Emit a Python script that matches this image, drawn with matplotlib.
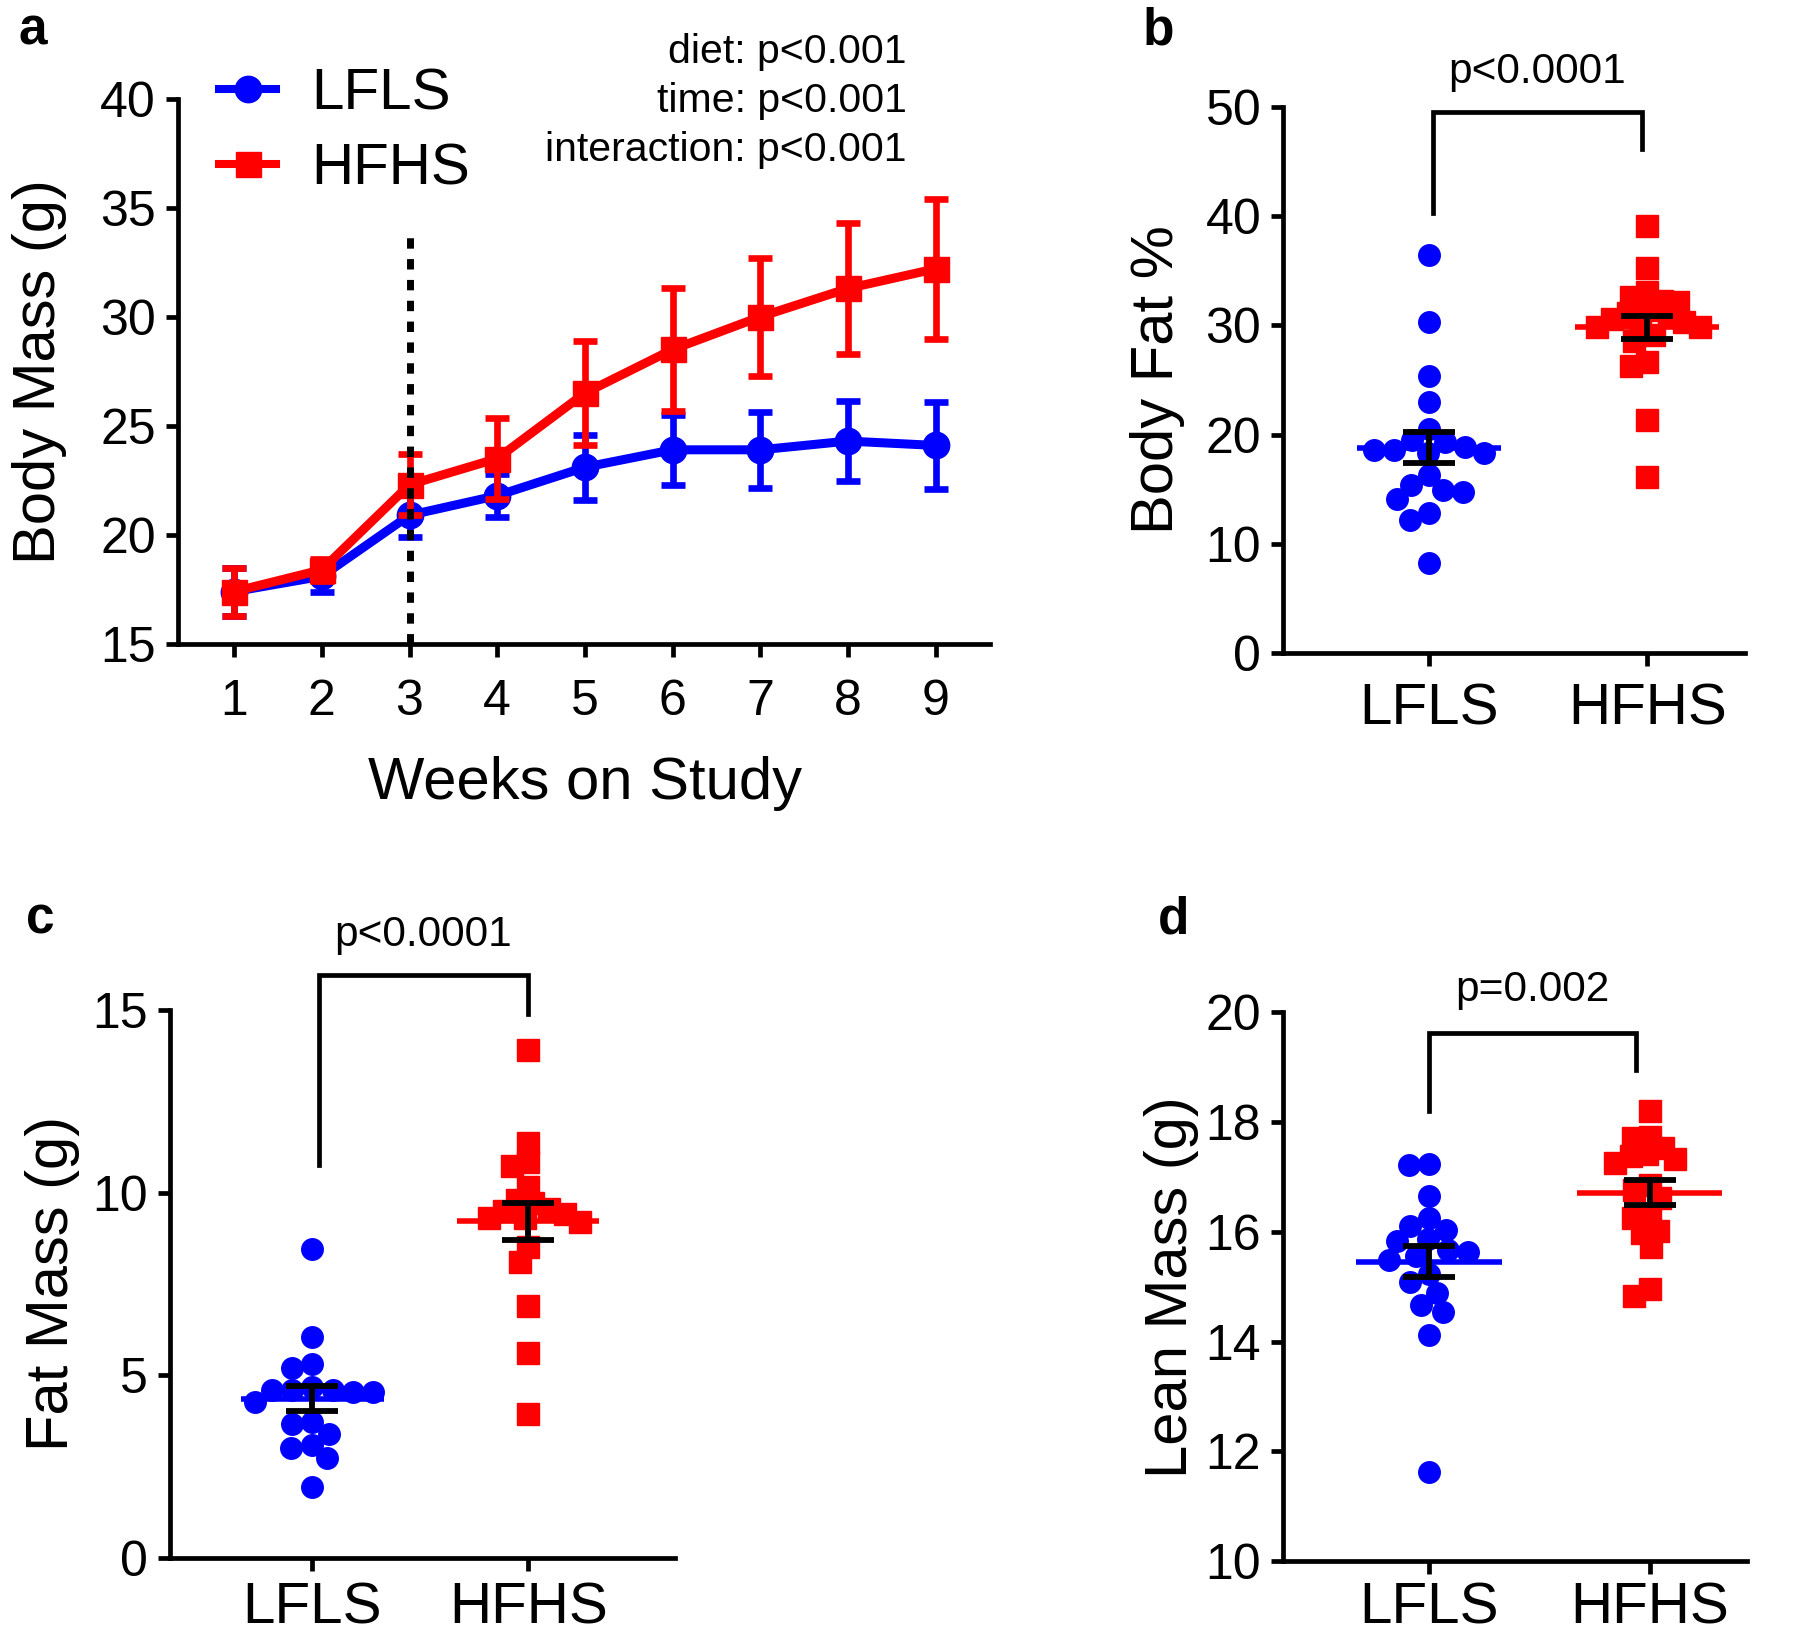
import numpy as np
import matplotlib
matplotlib.use("Agg")
import matplotlib.pyplot as plt
from matplotlib.lines import Line2D

plt.rcParams['font.family'] = ['Liberation Sans', 'DejaVu Sans']

# ---------------- data ----------------
weeks = [1, 2, 3, 4, 5, 6, 7, 8, 9]
lfls_mass = [17.4, 18.1, 20.9, 21.8, 23.1, 23.9, 23.9, 24.3, 24.1]
lfls_mass_sem = [1.1, 0.7, 1.0, 1.0, 1.5, 1.6, 1.75, 1.85, 2.0]
hfhs_mass = [17.4, 18.4, 22.3, 23.5, 26.5, 28.5, 30.0, 31.3, 32.2]
hfhs_mass_sem = [1.1, 0.5, 1.4, 1.85, 2.4, 2.8, 2.7, 3.0, 3.2]
diet_start_week = 3

groups = ["LFLS", "HFHS"]

fat_pct_lfls = [36.4, 30.3, 25.4, 23.0, 20.5, 19.5, 19.3, 18.6, 18.6, 18.9,
                18.3, 18.3, 16.3, 15.4, 14.7, 14.9, 14.1, 12.8, 12.2, 8.2]
fat_pct_hfhs = [39.1, 35.2, 33.0, 32.6, 32.1, 32.2, 31.4, 31.1, 30.8, 30.6,
                30.3, 30.0, 29.8, 29.8, 29.1, 28.6, 26.3, 26.6, 21.3, 16.1]

fat_mass_lfls = [8.44, 6.03, 5.29, 5.20, 4.68, 4.59, 4.54, 4.59, 4.54, 4.59,
                 4.27, 3.70, 3.67, 3.38, 3.09, 3.00, 2.73, 1.93]
fat_mass_hfhs = [13.9, 11.35, 10.84, 10.72, 10.14, 9.8, 9.7, 9.5, 9.4, 9.3,
                 9.3, 9.2, 9.55, 8.5, 8.1, 6.9, 5.6, 3.94]

lean_lfls = [17.23, 17.21, 16.66, 16.26, 16.11, 16.04, 15.86, 15.83, 15.67, 15.64,
             15.55, 15.49, 15.23, 15.08, 14.89, 14.67, 14.53, 14.12, 11.62]
lean_hfhs = [18.21, 17.71, 17.72, 17.53, 17.41, 17.33, 17.26, 17.38, 16.86, 16.76,
             16.62, 16.25, 16.28, 15.98, 16.02, 15.73, 14.83, 14.95]

pvals_a = ["diet: p<0.001", "time: p<0.001", "interaction: p<0.001"]
p_b = "p<0.0001"
p_c = "p<0.0001"
p_d = "p=0.002"

BLUE = "#0000FF"
RED = "#FF0000"

# ---------------- figure ----------------
W, H = 1568.0, 1428.0
fig = plt.figure(figsize=(18, 16.39), dpi=100)


def axes_from_px(x0, x1, ytop, ybot):
    return fig.add_axes([x0 / W, 1 - ybot / H, (x1 - x0) / W, (ybot - ytop) / H])


TICK_FS = 36
LAB_FS = 43
P_FS = 29.5
SPW = 3.4


def style(ax):
    for s in ["top", "right"]:
        ax.spines[s].set_visible(False)
    for s in ["left", "bottom"]:
        ax.spines[s].set_linewidth(SPW)
    ax.tick_params(width=SPW, length=9, labelsize=TICK_FS)
    ax.tick_params(axis='y', pad=7)
    ax.tick_params(axis='x', pad=16)


# ---------- panel a ----------
axa = axes_from_px(155, 862, 86, 561)
style(axa)
axa.set_xlim(1 - 49 / 76.4, 9 + 47 / 76.4)
axa.set_ylim(15, 40)
axa.set_yticks([15, 20, 25, 30, 35, 40])
axa.set_xticks(weeks)
axa.axvline(diet_start_week, ymin=0, ymax=(34.0 - 15) / 25, color='black',
            lw=5.0, ls=(0, (1.5, 1.5)), zorder=5)
axa.errorbar(weeks, lfls_mass, yerr=lfls_mass_sem, color=BLUE, lw=6.5,
             marker='o', ms=19, elinewidth=4.8, capsize=8.5, capthick=4.8,
             zorder=3, clip_on=False)
axa.errorbar(weeks, hfhs_mass, yerr=hfhs_mass_sem, color=RED, lw=6.5,
             marker='s', ms=18, elinewidth=4.8, capsize=8.5, capthick=4.8,
             zorder=4, clip_on=False)
axa.set_ylabel("Body Mass (g)", fontsize=LAB_FS)
axa.yaxis.set_label_coords(-0.137, 0.5)
axa.set_xlabel("Weeks on Study", fontsize=LAB_FS)
axa.xaxis.set_label_coords(0.502, -0.205)

hl = [Line2D([], [], color=BLUE, lw=5.8, marker='o', ms=19),
      Line2D([], [], color=RED, lw=5.8, marker='s', ms=18)]
fig.legend(hl, groups, loc='center left', bbox_to_anchor=(191 / W, 1 - 115 / H),
           frameon=False, fontsize=42, handlelength=0.98, handletextpad=0.6,
           labelspacing=0.37, borderaxespad=0, borderpad=0)

for i, t in enumerate(pvals_a):
    fig.text(790 / W, 1 - (45 + 43 * i) / H, t, ha='right', va='center', fontsize=P_FS)


# ---------- swarm helper ----------
def swarm_x(ax, center, values, diam_px):
    disp = ax.transData
    pts = []
    order = np.argsort(-np.asarray(values))
    xs = np.zeros(len(values))
    cx, _ = disp.transform((center, 0))
    for idx in order:
        _, py = disp.transform((center, values[idx]))
        cands = [0.0]
        for (qx, qy) in pts:
            dy = py - qy
            if abs(dy) < diam_px:
                dx = np.sqrt(diam_px ** 2 - dy ** 2)
                cands += [qx + dx, qx - dx]
        cands = sorted(cands, key=lambda c: (abs(c), c))
        for c in cands:
            ok = True
            for (qx, qy) in pts:
                if (c - qx) ** 2 + (py - qy) ** 2 < diam_px ** 2 - 1e-6:
                    ok = False
                    break
            if ok:
                pts.append((c, py))
                xd = disp.inverted().transform((cx + c, py))[0]
                xs[idx] = xd
                break
    return xs


def dot_panel(ax, data_l, data_h, ylim, yticks, ylabel, label_x, xpad):
    style(ax)
    ax.set_ylim(*ylim)
    ax.set_yticks(yticks)
    ax.set_xticks([0, 1])
    ax.set_xticklabels(groups, fontsize=42)
    ax.tick_params(axis='x', pad=xpad)
    ax.set_ylabel(ylabel, fontsize=LAB_FS)
    ax.yaxis.set_label_coords(label_x, 0.5)
    for i, (vals, col, mk, f) in enumerate([(data_l, BLUE, 'o', 0.95),
                                            (data_h, RED, 's', 0.78)]):
        vals = np.asarray(vals)
        xs = swarm_x(ax, i, vals, 21.5 * f)
        ax.plot(xs, vals, ls='none', marker=mk, ms=15.5, mfc=col, mec=col,
                zorder=3, clip_on=False)
        m = vals.mean()
        sem = vals.std(ddof=1) / np.sqrt(len(vals))
        ax.plot([i - 0.33, i + 0.33], [m, m], color=col, lw=4, zorder=4,
                solid_capstyle='butt')
        ax.errorbar([i], [m], yerr=[sem], color='black', lw=0, elinewidth=4.2,
                    capsize=19, capthick=4.2, zorder=5)


def bracket(ax, x0, x1, ytop, yl, yr, text, ytext):
    ax.plot([x0, x0, x1, x1], [yl, ytop, ytop, yr], color='black', lw=3.4,
            clip_on=False, solid_joinstyle='miter', zorder=6)
    ax.text((x0 + x1) / 2, ytext, text, ha='center', va='center', fontsize=P_FS + 1)


# ---------- panel b ----------
axb = axes_from_px(1118, 1520, 93, 569)
axb.set_xlim(-0.668, 1.447)
dot_panel(axb, fat_pct_lfls, fat_pct_hfhs, (0, 50), [0, 10, 20, 30, 40, 50],
          "Body Fat %", -0.213, 12)
bracket(axb, 0.016, 0.974, 49.5, 40.3, 46.1, p_b, 53.2)

# ---------- panel c ----------
axc = axes_from_px(148, 588, 880, 1357)
axc.set_xlim(-0.66, 1.68)
dot_panel(axc, fat_mass_lfls, fat_mass_hfhs, (0, 15), [0, 5, 10, 15],
          "Fat Mass (g)", -0.177, 8)
bracket(axc, 0.03, 1.0, 15.95, 10.75, 14.9, p_c, 17.05)

# ---------- panel d ----------
axd = axes_from_px(1118, 1522, 882, 1360)
axd.set_xlim(-0.661, 1.443)
dot_panel(axd, lean_lfls, lean_hfhs, (10, 20), [10, 12, 14, 16, 18, 20],
          "Lean Mass (g)", -0.183, 6)
bracket(axd, 0.0, 0.94, 19.62, 18.2, 18.95, p_d, 20.4)

# ---------- panel letters ----------
for lt, (x, y) in zip("abcd", [(29, 39), (1009, 39), (35, 813), (1022, 813)]):
    fig.text(x / W, 1 - y / H, lt, fontsize=37, fontweight='bold', ha='center',
             va='baseline')

fig.savefig("out.png", dpi=100)
